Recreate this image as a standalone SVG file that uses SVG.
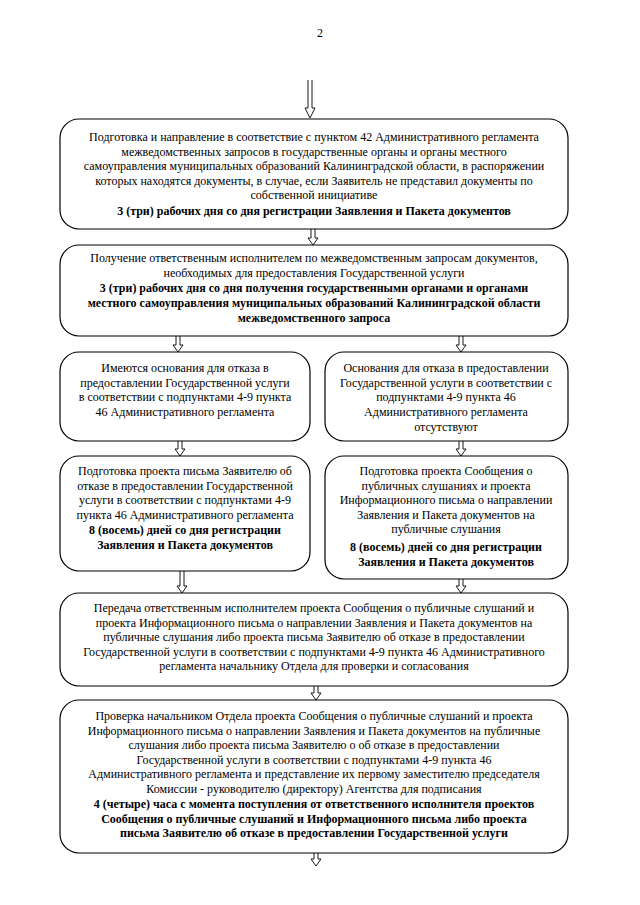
<svg xmlns="http://www.w3.org/2000/svg" width="640" height="905" viewBox="0 0 640 905">
<style>
.box{fill:#fff;stroke:#000;stroke-width:1.2}
.t{font-family:"Liberation Serif","Times New Roman",serif;font-size:12px;fill:#000;text-anchor:middle}
.b{font-weight:bold}
.arr{fill:#fff;stroke:#000;stroke-width:0.9}
</style>
<rect width="640" height="905" fill="#fff"/>
<text class="t" x="320" y="37">2</text>
<g id="connectors">
<path class="arr" d="M308 80 V108 H305 L310 118 L315 108 H312 V80"/>
<path class="arr" d="M311 229 V238 H308 L313 245 L318 238 H315 V229"/>
<path class="arr" d="M176 336 V345 H173 L178 352 L183 345 H180 V336"/>
<path class="arr" d="M459 336 V345 H456 L461 352 L466 345 H463 V336"/>
<path class="arr" d="M178 441 V449 H175 L180 456 L185 449 H182 V441"/>
<path class="arr" d="M459 441 V449 H456 L461 456 L466 449 H463 V441"/>
<path class="arr" d="M180 571 V586 H177 L182 593 L187 586 H184 V571"/>
<path class="arr" d="M459 579 V586 H456 L461 593 L466 586 H463 V579"/>
<path class="arr" d="M314 686 V693 H311 L316 700 L321 693 H318 V686"/>
<path class="arr" d="M314 853 V859 H311 L316 866 L321 859 H318 V853"/>
</g>
<g id="n1">
<rect class="box" x="60" y="119" width="508" height="110" rx="19"/>
<text class="t" x="314" y="141">Подготовка и направление в соответствие с пунктом 42 Административного регламента</text>
<text class="t" x="314" y="155.5">межведомственных запросов в государственные органы и органы местного</text>
<text class="t" x="314" y="170">самоуправления муниципальных образований Калининградской области, в распоряжении</text>
<text class="t" x="314" y="184.5">которых находятся документы, в случае, если Заявитель не представил документы по</text>
<text class="t" x="314" y="199">собственной инициативе</text>
<text class="t b" x="314" y="215">3 (три) рабочих дня со дня регистрации Заявления и Пакета документов</text>
</g>
<g id="n2">
<rect class="box" x="60" y="245" width="508" height="91" rx="19"/>
<text class="t" x="314" y="262">Получение ответственным исполнителем по межведомственным запросам документов,</text>
<text class="t" x="314" y="276.5">необходимых для предоставления Государственной услуги</text>
<text class="t b" x="314" y="292">3 (три) рабочих дня со дня получения государственными органами и органами</text>
<text class="t b" x="314" y="307">местного самоуправления муниципальных образований Калининградской области</text>
<text class="t b" x="314" y="322">межведомственного запроса</text>
</g>
<g id="n3">
<rect class="box" x="60" y="352" width="250" height="89" rx="19"/>
<text class="t" x="185" y="372">Имеются основания для отказа в</text>
<text class="t" x="185" y="386.5">предоставлении Государственной услуги</text>
<text class="t" x="185" y="401">в соответствии с подпунктами 4-9 пункта</text>
<text class="t" x="185" y="415.5">46 Административного регламента</text>
</g>
<g id="n4">
<rect class="box" x="325" y="352" width="243" height="89" rx="19"/>
<text class="t" x="446" y="372">Основания для отказа в предоставлении</text>
<text class="t" x="446" y="386.5">Государственной услуги в соответствии с</text>
<text class="t" x="446" y="401">подпунктами 4-9 пункта 46</text>
<text class="t" x="446" y="415.5">Административного регламента</text>
<text class="t" x="446" y="431">отсутствуют</text>
</g>
<g id="n5">
<rect class="box" x="60" y="456" width="250" height="115" rx="19"/>
<text class="t" x="185" y="475">Подготовка проекта письма Заявителю об</text>
<text class="t" x="185" y="489.5">отказе в предоставлении Государственной</text>
<text class="t" x="185" y="504">услуги в соответствии с подпунктами 4-9</text>
<text class="t" x="185" y="518.5">пункта 46 Административного регламента</text>
<text class="t b" x="185" y="534">8 (восемь) дней со дня регистрации</text>
<text class="t b" x="185" y="549">Заявления и Пакета документов</text>
</g>
<g id="n6">
<rect class="box" x="325" y="456" width="243" height="123" rx="19"/>
<text class="t" x="446" y="475">Подготовка проекта Сообщения о</text>
<text class="t" x="446" y="489.5">публичных слушаниях и проекта</text>
<text class="t" x="446" y="504">Информационного письма о направлении</text>
<text class="t" x="446" y="518.5">Заявления и Пакета документов на</text>
<text class="t" x="446" y="533">публичные слушания</text>
<text class="t b" x="446" y="551">8 (восемь) дней со дня регистрации</text>
<text class="t b" x="446" y="566">Заявления и Пакета документов</text>
</g>
<g id="n7">
<rect class="box" x="60" y="593" width="508" height="93" rx="19"/>
<text class="t" x="314" y="612">Передача ответственным исполнителем проекта Сообщения о публичные слушаний и</text>
<text class="t" x="314" y="626.5">проекта Информационного письма о направлении Заявления и Пакета документов на</text>
<text class="t" x="314" y="641">публичные слушания либо проекта письма Заявителю об отказе в предоставлении</text>
<text class="t" x="314" y="655.5">Государственной услуги в соответствии с подпунктами 4-9 пункта 46 Административного</text>
<text class="t" x="314" y="670">регламента начальнику Отдела для проверки и согласования</text>
</g>
<g id="n8">
<rect class="box" x="60" y="700" width="508" height="153" rx="19"/>
<text class="t" x="314" y="720">Проверка начальником Отдела проекта Сообщения о публичные слушаний и проекта</text>
<text class="t" x="314" y="734.5">Информационного письма о направлении Заявления и Пакета документов на публичные</text>
<text class="t" x="314" y="749">слушания либо проекта письма Заявителю о об отказе в предоставлении</text>
<text class="t" x="314" y="763.5">Государственной услуги в соответствии с подпунктами 4-9 пункта 46</text>
<text class="t" x="314" y="778">Административного регламента и представление их первому заместителю председателя</text>
<text class="t" x="314" y="792.5">Комиссии - руководителю (директору) Агентства для подписания</text>
<text class="t b" x="314" y="808">4 (четыре) часа с момента поступления от ответственного исполнителя проектов</text>
<text class="t b" x="314" y="822.5">Сообщения о публичные слушаний и Информационного письма либо проекта</text>
<text class="t b" x="314" y="837">письма Заявителю об отказе в предоставлении Государственной услуги</text>
</g>
</svg>
